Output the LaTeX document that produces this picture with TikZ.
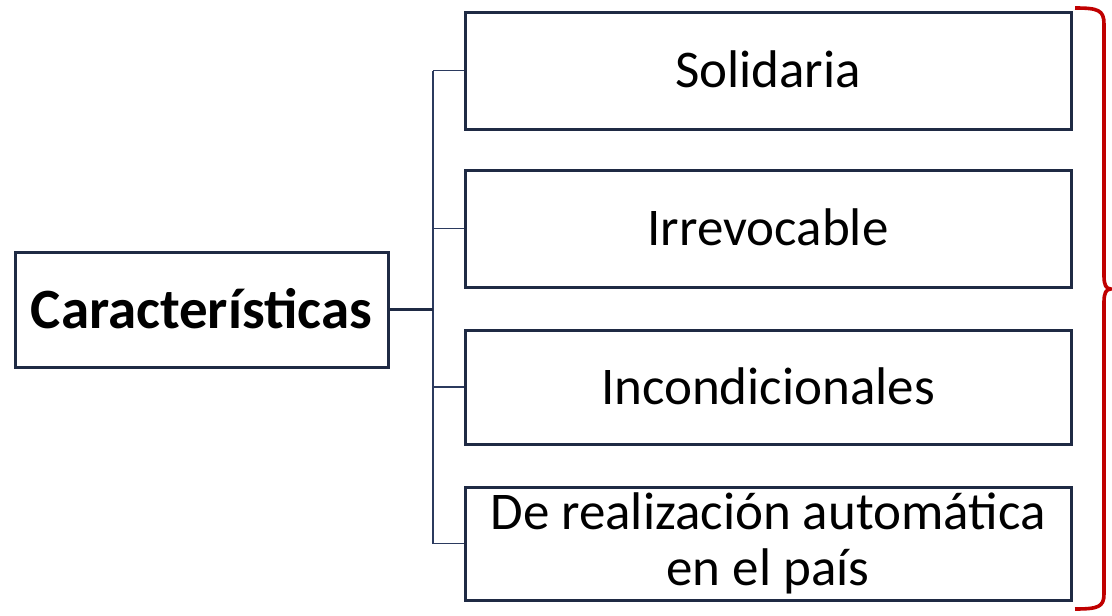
\documentclass[tikz,border=0pt]{standalone}
\usepackage{fontspec}
\setmainfont{Carlito}
\definecolor{boxline}{HTML}{1F2A44}
\definecolor{linkline}{HTML}{2B3A5E}
\definecolor{bracered}{HTML}{C00000}
\begin{document}
\begin{tikzpicture}[x=1pt,y=-1pt,
  itembox/.style={draw=boxline, line width=3pt, fill=white, minimum width=606pt, minimum height=117pt, inner sep=0pt, align=center, font=\fontsize{53}{56}\selectfont},
  mainbox/.style={draw=boxline, line width=3pt, fill=white, minimum width=373pt, minimum height=115pt, inner sep=0pt, font=\fontsize{57}{60}\selectfont\bfseries},
  link/.style={draw=linkline, line width=1.8pt},
  mainlink/.style={draw=boxline, line width=3pt}]
\useasboundingbox (0,0) rectangle (1112,616);
\node[mainbox] (main) at (201.5,309.5) {\raisebox{3pt}{Características}};
\node[itembox] (b1) at (768,70.5) {\raisebox{3pt}{Solidaria}};
\node[itembox] (b2) at (768,228.5) {\raisebox{3pt}{Irrevocable}};
\node[itembox, minimum height=114pt] (b3) at (768,387) {\raisebox{2pt}{Incondicionales}};
\node[itembox, minimum height=113pt] (b4) at (768,543.5) {De realización automática\\en el país};
\coordinate (j) at (433,309.5);
\coordinate (jt) at (j |- b1.west);
\coordinate (jb) at (j |- b4.west);
\draw[link] (jt) -- (jb);
\draw[link] (jt) -- (b1.west);
\draw[link] (j |- b2.west) -- (b2.west);
\draw[link] (j |- b3.west) -- (b3.west);
\draw[link] (jb) -- (b4.west);
\draw[mainlink] (main.east) -- (j);
\coordinate (brtop) at (1075,8);
\coordinate (brtip) at (1111,289);
\coordinate (brbot) at (1075,609);
\draw[bracered, line width=3.6pt, line join=round]
  (brtop) .. controls (1098,8) and (1104,10) .. (1104,24) -- (1104,276)
  .. controls (1104,285) and (1106,289) .. (brtip)
  .. controls (1106,289) and (1104,293) .. (1104,302) -- (1104,594)
  .. controls (1104,607) and (1098,609) .. (brbot);
\end{tikzpicture}
\end{document}
